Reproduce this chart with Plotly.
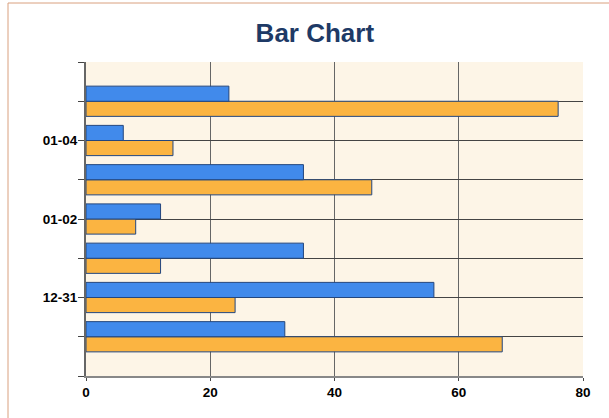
import plotly.graph_objects as go

categories = ["12-30", "12-31", "01-01", "01-02", "01-03", "01-04", "01-05"]
series_a = [32, 56, 35, 12, 35, 6, 23]     # blue
series_b = [67, 24, 12, 8, 46, 14, 76]     # orange
tick_labels = ["", "", "12-31", "", "01-02", "", "01-04", "", ""]

ypos = list(range(len(categories)))
tickvals = list(range(-1, len(categories) + 1))

fig = go.Figure()
fig.add_trace(go.Bar(y=ypos, x=series_b, orientation="h", name="B",
                     marker=dict(color="#FBB441", line=dict(color="#23467E", width=1))))
fig.add_trace(go.Bar(y=ypos, x=series_a, orientation="h", name="A",
                     marker=dict(color="#418AEB", line=dict(color="#23467E", width=1))))

fig.update_layout(
    width=609, height=418,
    margin=dict(l=86, r=26, t=62, b=42),
    paper_bgcolor="white",
    plot_bgcolor="#FDF5E7",
    showlegend=False,
    barmode="group",
    bargap=0.23,
    bargroupgap=0,
    title=dict(text="<b>Bar Chart</b>", x=0.517, xref="container", xanchor="center",
               y=0.922, yref="container", yanchor="middle",
               font=dict(family="Liberation Sans, Arial", size=26, color="#1E3A66")),
    font=dict(family="Liberation Sans, Arial", size=13.5, color="black"),
    xaxis=dict(range=[0, 80], tickvals=[0, 20, 40, 60, 80],
               ticktext=["<b>0</b>", "<b>20</b>", "<b>40</b>", "<b>60</b>", "<b>80</b>"],
               showgrid=True, gridcolor="#666666", gridwidth=1,
               showline=True, linecolor="#888888", linewidth=2,
               zeroline=False, ticks="outside", ticklen=3, tickcolor="#444444",
               fixedrange=True),
    yaxis=dict(range=[-1, len(categories)], tickvals=tickvals,
               ticktext=["<b>%s</b>" % t if t else "" for t in tick_labels],
               showgrid=True, gridcolor="#444444", gridwidth=1,
               showline=True, linecolor="#666666", linewidth=2,
               zeroline=False, ticks="outside", ticklen=6, tickcolor="#444444",
               ticklabelstandoff=-2,
               fixedrange=True),
    shapes=[dict(type="rect", xref="paper", yref="paper",
                 x0=(8 - 86) / 497, x1=1.2, y0=-0.3, y1=(376 - 3) / 314,
                 line=dict(color="#D9A07E", width=1), fillcolor="rgba(0,0,0,0)",
                 layer="below")],
)

fig.write_html("out.html", config={"displayModeBar": False},
               post_script="document.body.style.margin='0';")
